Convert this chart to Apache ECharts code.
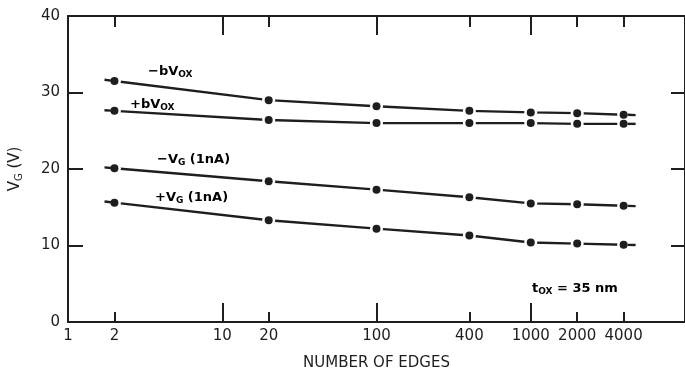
<!DOCTYPE html>
<html>
<head>
<meta charset="utf-8">
<script src="https://cdn.jsdelivr.net/npm/echarts@6/dist/echarts.min.js"></script>
<style>
  html, body { margin: 0; padding: 0; background: #fff; }
  #chart { width: 685px; height: 376px; }
</style>
</head>
<body>
<div id="chart"></div>
<script>
// Number of edges (log axis) and gate voltages read for each curve
const edges   = [2, 20, 100, 400, 1000, 2000, 4000];
const negBVox = [31.5, 29.0, 28.2, 27.6, 27.4, 27.3, 27.1];
const posBVox = [27.6, 26.4, 26.0, 26.0, 26.0, 25.9, 25.9];
const negVg   = [20.1, 18.4, 17.3, 16.3, 15.5, 15.4, 15.2];
const posVg   = [15.6, 13.3, 12.2, 11.3, 10.4, 10.25, 10.1];

// Tick sets
const xLabelValues = [1, 2, 10, 20, 100, 400, 1000, 2000, 4000];
const xMajorTicks  = [10, 100, 1000];
const xMinorTicks  = [2, 20, 400, 2000, 4000];

const INK = '#1e1e1e';
const FONT = 'DejaVu Sans';

const curves = [negBVox, posBVox, negVg, posVg];
const pairs = vals => edges.map((e, i) => [e, vals[i]]);

function logAxis(extra) {
  return Object.assign({
    type: 'log', logBase: 10, min: 1, max: 10000, gridIndex: 0,
    splitLine: { show: false },
    minorTick: { show: false },
    minorSplitLine: { show: false },
    axisLine: { show: false, onZero: false },
    axisLabel: { show: false }
  }, extra);
}

const tickLine = { color: INK, width: 2 };
const axisLine = { show: true, onZero: false, lineStyle: { color: INK, width: 2 } };

const xAxes = [
  logAxis({
    position: 'bottom',
    axisLine: axisLine,
    axisTick: { show: true, inside: true, length: 19, customValues: xMajorTicks, lineStyle: tickLine },
    axisLabel: {
      show: true, customValues: xLabelValues, margin: 7,
      color: INK, fontFamily: FONT, fontSize: 15,
      formatter: v => String(Math.round(v))
    },
    name: 'NUMBER OF EDGES', nameLocation: 'middle', nameGap: 34,
    nameTextStyle: { color: INK, fontFamily: FONT, fontSize: 15 }
  }),
  logAxis({
    position: 'bottom',
    axisTick: { show: true, inside: true, length: 10, customValues: xMinorTicks, lineStyle: tickLine }
  }),
  logAxis({
    position: 'top',
    axisLine: axisLine,
    axisTick: { show: true, inside: true, length: 19, customValues: xMajorTicks, lineStyle: tickLine }
  }),
  logAxis({
    position: 'top',
    axisTick: { show: true, inside: true, length: 11, customValues: xMinorTicks, lineStyle: tickLine }
  })
];

const yBase = { type: 'value', min: 0, max: 40, interval: 10, splitLine: { show: false } };
const yAxes = [
  Object.assign({}, yBase, {
    position: 'left',
    axisLine: axisLine,
    axisTick: { show: true, inside: true, length: 15, lineStyle: tickLine },
    axisLabel: { color: INK, fontFamily: FONT, fontSize: 15, margin: 8 },
    name: '{a|V}{s|G}{a| (V)}', nameLocation: 'middle', nameGap: 44, nameRotate: 90,
    nameTextStyle: {
      rich: {
        a: { color: INK, fontFamily: FONT, fontSize: 15 },
        s: { color: INK, fontFamily: FONT, fontSize: 10, padding: [7, 0, 0, 0] }
      }
    }
  }),
  Object.assign({}, yBase, {
    position: 'right',
    axisLine: axisLine,
    axisTick: { show: true, inside: true, length: 14, lineStyle: tickLine },
    axisLabel: { show: false }
  })
];

const series = [];
curves.forEach(vals => {
  series.push({
    type: 'line', data: pairs(vals), xAxisIndex: 0, yAxisIndex: 0,
    showSymbol: false, symbol: 'none', z: 2,
    lineStyle: { color: INK, width: 2.4 }
  });
});
// white halo opens a small gap in the line around each point
curves.forEach(vals => {
  series.push({
    type: 'scatter', data: pairs(vals), symbolSize: 13, z: 3,
    itemStyle: { color: '#fff', opacity: 1 }, silent: true
  });
});
// short lead-in / lead-out dashes beyond the end points
series.push({
  type: 'custom', z: 4, silent: true,
  encode: { x: 0, y: 1 },
  data: curves.map((vals, i) => [edges[0], vals[0], i]),
  renderItem(params, api) {
    const vals = curves[api.value(2)];
    const n = edges.length;
    const a0 = api.coord([edges[0], vals[0]]);
    const a1 = api.coord([edges[1], vals[1]]);
    const b0 = api.coord([edges[n - 1], vals[n - 1]]);
    const b1 = api.coord([edges[n - 2], vals[n - 2]]);
    const stub = (p, q, from, to) => {
      const dx = p[0] - q[0], dy = p[1] - q[1];
      const len = Math.hypot(dx, dy);
      const ux = dx / len, uy = dy / len;
      return {
        type: 'line',
        shape: { x1: p[0] + ux * from, y1: p[1] + uy * from, x2: p[0] + ux * to, y2: p[1] + uy * to },
        style: { stroke: INK, lineWidth: 2.4 }
      };
    };
    return { type: 'group', children: [stub(a0, a1, 3.5, 10), stub(b0, b1, 4, 12)] };
  }
});
curves.forEach(vals => {
  series.push({
    type: 'scatter', data: pairs(vals), symbolSize: 8, z: 5,
    itemStyle: { color: INK, opacity: 1 }
  });
});

const labelRich = {
  m: { color: INK, fontFamily: FONT, fontSize: 13, fontWeight: 'bold' },
  s: { color: INK, fontFamily: FONT, fontSize: 9, fontWeight: 'bold', padding: [6, 0, 0, 0] }
};
function note(text, left, top) {
  return { type: 'text', left: left, top: top, style: { text: text, rich: labelRich } };
}

const chart = echarts.init(document.getElementById('chart'), null, { renderer: 'canvas' });
chart.setOption({
  animation: false,
  backgroundColor: '#fff',
  grid: { left: 65, top: 16, width: 621, height: 311, containLabel: false },
  xAxis: xAxes,
  yAxis: yAxes,
  series: series,
  graphic: [
    note('{m|\u2212bV}{s|OX}', 148, 65),
    note('{m|+bV}{s|OX}', 130, 98),
    note('{m|\u2212V}{s|G}{m| (1nA)}', 157, 153),
    note('{m|+V}{s|G}{m| (1nA)}', 155, 191),
    note('{m|t}{s|OX}{m| = 35 nm}', 532, 282)
  ]
});
</script>
</body>
</html>
